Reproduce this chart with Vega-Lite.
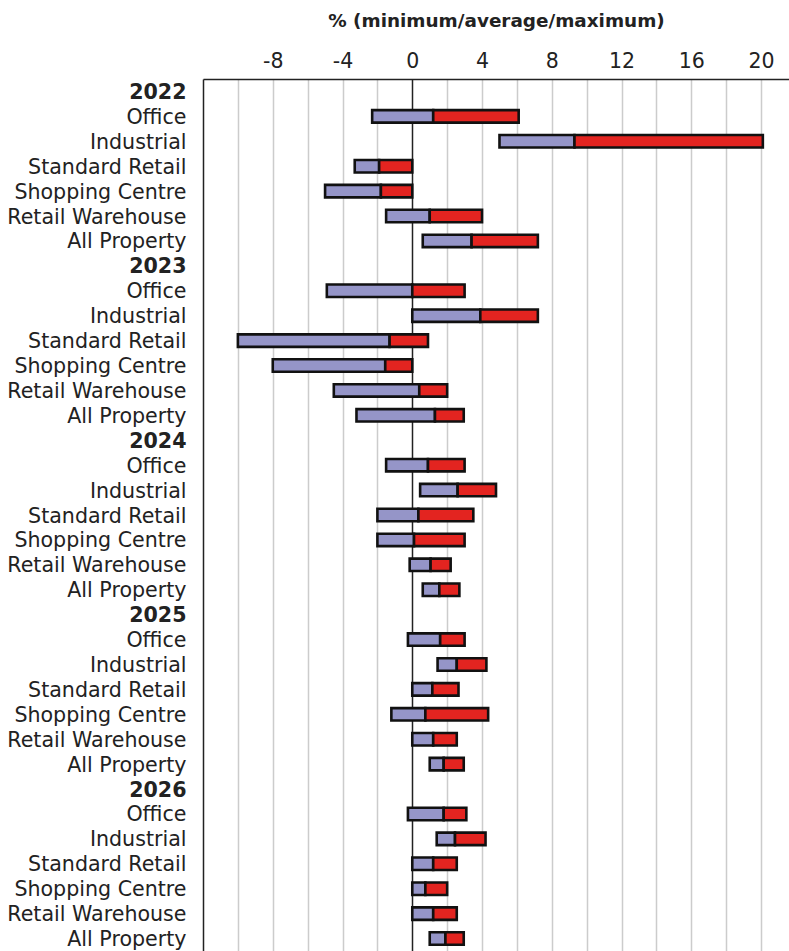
{
  "$schema": "https://vega.github.io/schema/vega-lite/v6.json",
  "autosize": "none",
  "padding": {"left": 203, "top": 79, "right": 0, "bottom": 0},
  "width": 586,
  "height": 872,
  "config": {
    "view": {"stroke": null},
    "font": "DejaVu Sans"
  },
  "data": {
    "values": [
      {"key": "2022|Office", "min": -2.3, "avg": 1.2, "max": 6.1},
      {"key": "2022|Industrial", "min": 5.0, "avg": 9.3, "max": 20.1},
      {"key": "2022|Standard Retail", "min": -3.3, "avg": -1.9, "max": 0.0},
      {"key": "2022|Shopping Centre", "min": -5.0, "avg": -1.8, "max": 0.0},
      {"key": "2022|Retail Warehouse", "min": -1.5, "avg": 1.0, "max": 4.0},
      {"key": "2022|All Property", "min": 0.6, "avg": 3.4, "max": 7.2},
      {"key": "2023|Office", "min": -4.9, "avg": 0.0, "max": 3.0},
      {"key": "2023|Industrial", "min": 0.0, "avg": 3.9, "max": 7.2},
      {"key": "2023|Standard Retail", "min": -10.0, "avg": -1.3, "max": 0.9},
      {"key": "2023|Shopping Centre", "min": -8.0, "avg": -1.55, "max": 0.0},
      {"key": "2023|Retail Warehouse", "min": -4.5, "avg": 0.4, "max": 2.0},
      {"key": "2023|All Property", "min": -3.2, "avg": 1.3, "max": 2.95},
      {"key": "2024|Office", "min": -1.5, "avg": 0.9, "max": 3.0},
      {"key": "2024|Industrial", "min": 0.45, "avg": 2.6, "max": 4.8},
      {"key": "2024|Standard Retail", "min": -2.0, "avg": 0.35, "max": 3.5},
      {"key": "2024|Shopping Centre", "min": -2.0, "avg": 0.1, "max": 3.0},
      {"key": "2024|Retail Warehouse", "min": -0.15, "avg": 1.05, "max": 2.2},
      {"key": "2024|All Property", "min": 0.6, "avg": 1.55, "max": 2.7},
      {"key": "2025|Office", "min": -0.25, "avg": 1.6, "max": 3.0},
      {"key": "2025|Industrial", "min": 1.45, "avg": 2.55, "max": 4.25},
      {"key": "2025|Standard Retail", "min": 0.0, "avg": 1.15, "max": 2.65},
      {"key": "2025|Shopping Centre", "min": -1.2, "avg": 0.75, "max": 4.35},
      {"key": "2025|Retail Warehouse", "min": 0.0, "avg": 1.2, "max": 2.55},
      {"key": "2025|All Property", "min": 1.0, "avg": 1.8, "max": 2.95},
      {"key": "2026|Office", "min": -0.25, "avg": 1.8, "max": 3.1},
      {"key": "2026|Industrial", "min": 1.4, "avg": 2.45, "max": 4.2},
      {"key": "2026|Standard Retail", "min": 0.0, "avg": 1.2, "max": 2.55},
      {"key": "2026|Shopping Centre", "min": 0.0, "avg": 0.75, "max": 2.0},
      {"key": "2026|Retail Warehouse", "min": 0.0, "avg": 1.2, "max": 2.55},
      {"key": "2026|All Property", "min": 1.0, "avg": 1.9, "max": 2.95}
    ]
  },
  "encoding": {
    "y": {
      "field": "key",
      "type": "nominal",
      "title": null,
      "scale": {
        "domain": [
          "2022", "2022|Office", "2022|Industrial", "2022|Standard Retail", "2022|Shopping Centre", "2022|Retail Warehouse", "2022|All Property",
          "2023", "2023|Office", "2023|Industrial", "2023|Standard Retail", "2023|Shopping Centre", "2023|Retail Warehouse", "2023|All Property",
          "2024", "2024|Office", "2024|Industrial", "2024|Standard Retail", "2024|Shopping Centre", "2024|Retail Warehouse", "2024|All Property",
          "2025", "2025|Office", "2025|Industrial", "2025|Standard Retail", "2025|Shopping Centre", "2025|Retail Warehouse", "2025|All Property",
          "2026", "2026|Office", "2026|Industrial", "2026|Standard Retail", "2026|Shopping Centre", "2026|Retail Warehouse", "2026|All Property"
        ],
        "paddingInner": 0,
        "paddingOuter": 0
      },
      "axis": {
        "ticks": false,
        "domain": true,
        "domainColor": "#222222",
        "domainWidth": 1.5,
        "labelPadding": 17,
        "labelOffset": 1.5,
        "labelFontSize": 20.6,
        "labelColor": "#222222",
        "labelFontWeight": {"expr": "indexof(datum.label, '|') < 0 ? 'bold' : 'normal'"},
        "labelExpr": "indexof(datum.label, '|') < 0 ? datum.label : split(datum.label, '|')[1]",
        "labelLimit": 300
      }
    },
    "x": {
      "field": "min",
      "type": "quantitative",
      "scale": {"domain": [-12, 21.6], "nice": false, "zero": false},
      "axis": {
        "orient": "top",
        "title": "% (minimum/average/maximum)",
        "titleFontSize": 18.4,
        "titleFontWeight": "bold",
        "titleColor": "#222222",
        "titlePadding": 21,
        "values": [-10, -8, -6, -4, -2, 0, 2, 4, 6, 8, 10, 12, 14, 16, 18, 20],
        "labelExpr": "datum.value % 4 == 0 ? toString(datum.value) : ''",
        "labelFontSize": 20.5,
        "labelColor": "#222222",
        "labelPadding": 8,
        "ticks": false,
        "domain": true,
        "domainColor": "#222222",
        "domainWidth": 1.5,
        "grid": true,
        "gridColor": {"expr": "datum.value == 0 ? '#222222' : '#cccccc'"},
        "gridWidth": 1.5
      }
    }
  },
  "layer": [
    {
      "mark": {"type": "bar", "height": {"band": 0.5}, "fill": "#9595C8", "stroke": "#111111", "strokeWidth": 2.6},
      "encoding": {"x2": {"field": "avg"}}
    },
    {
      "mark": {"type": "bar", "height": {"band": 0.5}, "fill": "#E32420", "stroke": "#111111", "strokeWidth": 2.6},
      "encoding": {"x": {"field": "avg", "type": "quantitative"}, "x2": {"field": "max"}}
    }
  ]
}
